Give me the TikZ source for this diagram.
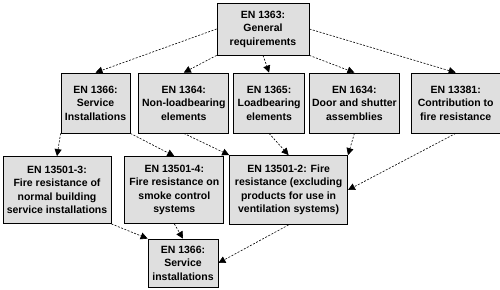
\documentclass[tikz,border=0pt]{standalone}
\usepackage{fontspec}
\setmainfont{Liberation Sans}
\usepackage{tikz}
\usetikzlibrary{positioning, arrows.meta}

\begin{document}
\begin{tikzpicture}[
  norm/.style={rectangle, draw=black, line width=0.8pt, fill=gray!25, align=center,
    inner sep=1pt, minimum height=60pt, font=\bfseries\fontsize{10.5}{13.5}\selectfont},
  line/.style={draw=black, line width=0.6pt, dash pattern=on 2pt off 1.5pt,
    -{Triangle[length=7pt, width=7pt]}},
  node distance=4pt
]
\useasboundingbox (0,0) rectangle (500pt,-289pt);

% === NORMA GENERALE ===
\node[norm, minimum width=92pt, minimum height=52pt] (gen) at (263pt,-29pt) {EN 1363:\\General\\requirements};

% === SECONDA RIGA ===
\node[norm, minimum width=69pt] (s1366) at (95.5pt,-103pt) {EN 1366:\\Service\\Installations};
\node[norm, minimum width=90pt, right=8pt of s1366] (s1364) {EN 1364:\\Non-loadbearing\\elements};
\node[norm, minimum width=71pt, right=of s1364] (s1365) {EN 1365:\\Loadbearing\\elements};
\node[norm, minimum width=90pt, right=of s1365] (s1634) {EN 1634:\\Door and shutter\\assemblies};
\node[norm, minimum width=89pt, right=11pt of s1634] (s13381) {EN 13381:\\Contribution to\\fire resistance};

% === TERZA RIGA ===
\node[norm, minimum width=108pt, minimum height=67pt] (s135013) at (57pt,-190pt) {EN 13501-3:\\Fire resistance of\\normal building\\service installations};
\node[norm, minimum width=99pt, minimum height=67pt, right=13pt of s135013] (s135014) {EN 13501-4:\\Fire resistance on\\smoke control\\systems};
\node[norm, minimum width=118pt, minimum height=69pt, right=5pt of s135014] (s135012) {EN 13501-2: Fire\\resistance (excluding\\products for use in\\ventilation systems)};

% === ULTIMA ===
\node[norm, minimum width=70pt, minimum height=48pt] (s1366b) at (183pt,-263pt) {EN 1366:\\Service\\installations};

% === COLLEGAMENTI ===
\draw[line] (gen.west) -- (s1366.north);
\draw[line] (gen.south west) -- (s1364.north);
\draw[line] (gen.south) -- (s1365.north);
\draw[line] (gen.south east) -- (s1634.north);
\draw[line] (gen.east) -- (s13381.north);

\draw[line] (s1366.south west) -- (s135013.north);
\draw[line] (s1366.south east) -- (s135014.north);
\draw[line] (s1364.south) -- (s135012.north west);
\draw[line] (s1365.south) -- (s135012.north);
\draw[line] (s1634.south) -- (s135012.north east);
\draw[line] (s13381.south) -- (s135012.east);

\draw[line] (s135013.south east) -- (s1366b.north west);
\draw[line] (s135014.south) -- (s1366b.north);
\draw[line] (s135012.south) -- (s1366b.east);

\end{tikzpicture}
\end{document}
